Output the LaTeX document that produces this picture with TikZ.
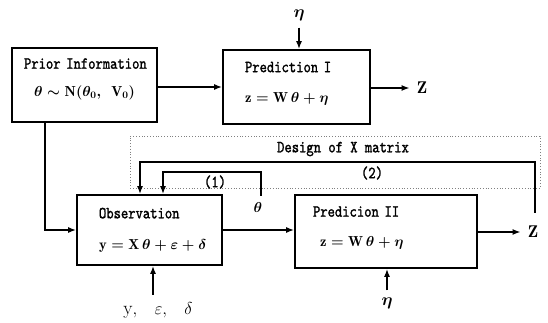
\documentclass[tikz,border=0pt]{standalone}
\usepackage{amsmath}
\usepackage{fontspec}
\newfontfamily\boxfont[FakeBold=1.4,FakeStretch=0.82]{lmmono10-regular.otf}
\newcommand{\eqsz}{\fontsize{14.5}{17}\selectfont}
\usetikzlibrary{arrows.meta,positioning,calc}

\begin{document}
\begin{tikzpicture}[
    x=1pt, y=-1pt,
    >={Latex[length=8pt,width=6pt]},
    box/.style={draw, line width=1.6pt, align=left, inner ysep=0pt, font=\boxfont\fontsize{17}{19}\selectfont\boldmath},
    arr/.style={->, line width=1.6pt},
    group/.style={draw, dotted, gray, line width=0.8pt, inner sep=0pt},
    lbl/.style={font=\boxfont\fontsize{17}{19}\selectfont, inner sep=1pt},
    sym/.style={font=\fontsize{16}{19}\selectfont\boldmath, inner sep=1pt}
]
    \useasboundingbox (0,0) rectangle (548,323);

    % design group behind the feedback loops
    \node[group, minimum width=410pt, minimum height=52pt] (design) at (335,162) {};
    \node[lbl] (designlbl) at (343,149) {Design of X matrix};

    \node[box, align=center, text width=121pt, inner xsep=12pt, minimum height=74pt] (prior) at (84.5,85)
        {\mbox{Prior Information}\\[9pt]\mbox{\eqsz$\theta\sim\mathrm{N}(\theta_0,\;\,\mathrm{V}_0)$}\\[-4pt]\mbox{}};
    \node[box, text width=103pt, inner xsep=22pt, minimum height=74pt] (predone) at (296.5,87)
        {Prediction I\\[11pt]\mbox{\eqsz$\mathrm{z}=\mathrm{W}\,\theta+\eta$}\\[-9pt]\mbox{}};
    \node[box, text width=101pt, inner xsep=22pt, minimum height=70pt] (obs) at (149.5,230)
        {Observation\\[12pt]\mbox{\eqsz$\mathrm{y}=\mathrm{X}\,\theta+\varepsilon+\delta$}};
    \node[box, text width=146pt, inner xsep=18pt, minimum height=73pt] (predtwo) at (386,231.5)
        {Predicion II\\[11pt]\hspace*{7pt}\mbox{\eqsz$\mathrm{z}=\mathrm{W}\,\theta+\eta$}\\[-9pt]\mbox{}};

    \node[sym] (etaone) at (299,15) {$\eta$};
    \node[sym, font=\fontsize{17}{19}\selectfont\boldmath] (zone) at (422,88) {$\mathrm{Z}$};
    \node[sym, font=\fontsize{19}{21}\selectfont] (obsin) at (158,310) {$\mathrm{y},\;\;\;\varepsilon,\;\;\;\delta$};
    \node[sym] (etatwo) at (387,303) {$\eta$};
    \node[sym, font=\fontsize{17}{19}\selectfont\boldmath] (ztwo) at (533,232) {$\mathrm{Z}$};
    \node[sym, font=\fontsize{14}{16}\selectfont\boldmath] (theta) at (258,207) {$\theta$};
    \node[lbl] (labone) at (215,182) {(1)};
    \node[lbl] (labtwo) at (372,173) {(2)};

    \coordinate (loopone) at (261,172);
    \coordinate (looptwo) at (535,162);

    \draw[arr] (prior.east |- predone.west) -- (predone.west);
    \draw[arr, shorten <=6pt] (etaone) -- (etaone |- predone.north);
    \draw[arr, shorten >=6pt] (predone.east |- zone) -- (zone);
    \draw[arr] ([xshift=-39.5pt]prior.south) |- (obs.west);
    \draw[arr] (obs.east) -- (obs.east -| predtwo.west);
    \draw[arr, shorten >=6pt] (predtwo.east |- ztwo) -- (ztwo);
    \draw[arr, shorten <=6pt] ([xshift=3.5pt]obs.south |- obsin.north) -- ([xshift=3.5pt]obs.south);
    \draw[arr, shorten <=6pt] (etatwo) -- (etatwo |- predtwo.south);

    % feedback loops
    \draw[arr, shorten <=5pt] (theta.north -| loopone) -- (loopone) -| ([xshift=13.5pt]obs.north);
    \draw[arr, shorten <=12pt] (ztwo.north -| looptwo) -- (looptwo) -| ([xshift=-9.5pt]obs.north);
\end{tikzpicture}
\end{document}
